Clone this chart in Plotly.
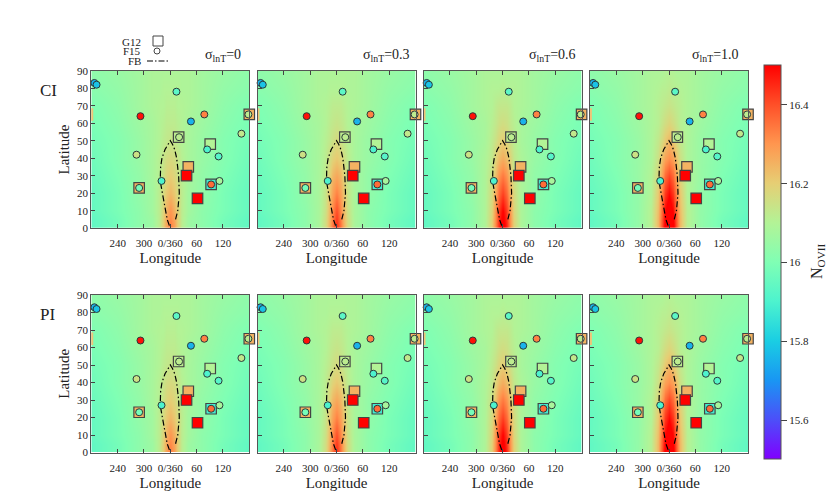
import plotly.graph_objects as go

FONT = "Liberation Serif"
INK = "#222222"
W, H = 830, 498

# Map samples: columns are degrees away from lon 0 (map is symmetric)
offsets = [0, 8, 15, 25, 40, 70, 120, 180]
lats = [0, 5, 10, 20, 30, 40, 50, 60, 70, 80, 90]
z_s0 = [
    [16.34, 16.28, 16.20, 16.12, 16.06, 16.03, 15.98, 15.94],
    [16.32, 16.27, 16.20, 16.12, 16.06, 16.03, 15.98, 15.94],
    [16.30, 16.25, 16.19, 16.12, 16.07, 16.03, 15.99, 15.95],
    [16.24, 16.21, 16.17, 16.12, 16.07, 16.04, 15.99, 15.95],
    [16.20, 16.18, 16.15, 16.11, 16.08, 16.04, 16.00, 15.96],
    [16.17, 16.16, 16.14, 16.11, 16.08, 16.05, 16.01, 15.97],
    [16.14, 16.13, 16.12, 16.10, 16.08, 16.05, 16.01, 15.98],
    [16.12, 16.12, 16.11, 16.10, 16.08, 16.06, 16.02, 15.99],
    [16.11, 16.11, 16.10, 16.10, 16.09, 16.07, 16.03, 16.00],
    [16.10, 16.10, 16.10, 16.09, 16.09, 16.07, 16.04, 16.02],
    [16.09, 16.09, 16.09, 16.09, 16.09, 16.07, 16.05, 16.03],
]
z_s3 = [
    [16.45, 16.35, 16.26, 16.16, 16.08, 16.03, 15.98, 15.94],
    [16.43, 16.34, 16.25, 16.16, 16.08, 16.03, 15.98, 15.94],
    [16.40, 16.32, 16.24, 16.15, 16.08, 16.03, 15.99, 15.95],
    [16.33, 16.28, 16.22, 16.14, 16.08, 16.04, 15.99, 15.95],
    [16.27, 16.24, 16.19, 16.13, 16.08, 16.04, 16.00, 15.96],
    [16.21, 16.19, 16.16, 16.12, 16.08, 16.05, 16.01, 15.97],
    [16.17, 16.15, 16.13, 16.11, 16.08, 16.05, 16.01, 15.98],
    [16.14, 16.13, 16.12, 16.10, 16.08, 16.06, 16.02, 15.99],
    [16.12, 16.12, 16.11, 16.10, 16.09, 16.07, 16.03, 16.00],
    [16.10, 16.10, 16.10, 16.09, 16.09, 16.07, 16.04, 16.02],
    [16.09, 16.09, 16.09, 16.09, 16.09, 16.07, 16.05, 16.03],
]
z_s6 = [
    [16.55, 16.45, 16.33, 16.19, 16.09, 16.03, 15.98, 15.94],
    [16.53, 16.44, 16.32, 16.19, 16.09, 16.03, 15.98, 15.94],
    [16.50, 16.42, 16.31, 16.18, 16.09, 16.03, 15.99, 15.95],
    [16.42, 16.36, 16.27, 16.17, 16.09, 16.04, 15.99, 15.95],
    [16.34, 16.30, 16.23, 16.15, 16.09, 16.04, 16.00, 15.96],
    [16.26, 16.23, 16.19, 16.13, 16.09, 16.05, 16.01, 15.97],
    [16.20, 16.18, 16.15, 16.12, 16.08, 16.05, 16.01, 15.98],
    [16.16, 16.15, 16.13, 16.11, 16.08, 16.06, 16.02, 15.99],
    [16.13, 16.13, 16.12, 16.10, 16.09, 16.07, 16.03, 16.00],
    [16.11, 16.10, 16.10, 16.10, 16.09, 16.07, 16.04, 16.02],
    [16.09, 16.09, 16.09, 16.09, 16.09, 16.07, 16.05, 16.03],
]
z_s10 = [
    [16.62, 16.53, 16.40, 16.24, 16.11, 16.04, 15.98, 15.94],
    [16.59, 16.51, 16.39, 16.24, 16.11, 16.04, 15.98, 15.94],
    [16.56, 16.49, 16.37, 16.23, 16.11, 16.04, 15.99, 15.95],
    [16.49, 16.43, 16.33, 16.21, 16.10, 16.04, 15.99, 15.95],
    [16.41, 16.36, 16.28, 16.18, 16.10, 16.05, 16.00, 15.96],
    [16.31, 16.28, 16.23, 16.15, 16.09, 16.05, 16.01, 15.97],
    [16.24, 16.21, 16.17, 16.13, 16.09, 16.05, 16.01, 15.98],
    [16.18, 16.16, 16.14, 16.11, 16.09, 16.06, 16.02, 15.99],
    [16.14, 16.13, 16.12, 16.11, 16.09, 16.07, 16.03, 16.00],
    [16.12, 16.11, 16.11, 16.10, 16.09, 16.07, 16.04, 16.02],
    [16.10, 16.10, 16.09, 16.09, 16.09, 16.07, 16.05, 16.03],
]
tables = [z_s0, z_s3, z_s6, z_s10]

g12_lon = [180, 19, 91, 41, 37, 62, 93, -71]
g12_lat = [65, 52, 48, 35, 30, 17, 25, 23]
g12_val = [16.25, 16.12, 16.1, 16.25, 16.5, 16.5, 15.88, 16.25]

f15_lon = [-173, -168, 14, -68, 77.5, 47, 178, 162, 20, -77, 84, 110, -20, 112, 93, -71]
f15_lat = [83, 82, 78, 64, 65, 61, 65, 54, 52, 42, 45, 41, 27, 27, 25, 23]
f15_val = [15.75, 15.78, 15.93, 16.48, 16.33, 15.75, 16.12, 16.13, 16.12, 16.15, 15.9, 15.92, 15.9, 16.08, 16.36, 15.98]

fb_lon = [12, 17, 20.5, 19, 14.5, 10, 5, 0, -12, -19, -22, -23, -18, -11, -7, 0]
fb_lat = [5, 10, 20, 30, 40, 45, 48, 50, 45, 40, 35, 27, 20, 10, 5, 0]

x_ticks = [-120, -60, 0, 60, 120]
x_labels = ["240", "300", "0/360", "60", "120"]
y_ticks = [0, 10, 20, 30, 40, 50, 60, 70, 80, 90]
sigma_titles = ["σ<sub>lnT</sub>=0", "σ<sub>lnT</sub>=0.3", "σ<sub>lnT</sub>=0.6", "σ<sub>lnT</sub>=1.0"]
row_names = ["CI", "PI"]

palette = [
    [0.0, "#8000ff"], [0.1, "#4c4ff9"], [0.2, "#1996f3"], [0.3, "#1acee3"], [0.4, "#4df3ce"],
    [0.5, "#80ffb4"], [0.6, "#b3f396"], [0.7, "#e6ce74"], [0.8, "#ff964f"], [0.9, "#ff4f28"], [1.0, "#ff0000"],
]

col_left = [91.3, 257.5, 423.6, 590.0]
panel_w = 158
row_top = [70.7, 295.0]
panel_h = 157.5

lons = [-o for o in offsets[:0:-1]] + offsets


def px(v):
    return v / W


def py(v):
    return 1 - v / H


fig = go.Figure()
n = 0
for r, top in enumerate(row_top):
    for c, left in enumerate(col_left):
        n += 1
        sx = "" if n == 1 else str(n)
        z = [row[:0:-1] + row for row in tables[c]]
        fig.add_trace(go.Heatmap(x=lons, y=lats, z=z, coloraxis="coloraxis", zsmooth="best",
                                 xaxis="x" + sx, yaxis="y" + sx, hoverinfo="skip"))
        fig.add_trace(go.Scatter(x=[-178.5], y=[65], mode="markers", xaxis="x" + sx, yaxis="y" + sx,
                                 marker=dict(symbol="line-ns", size=9, line=dict(width=2.5, color="#f0c478")),
                                 showlegend=False, hoverinfo="skip"))
        fig.add_trace(go.Scatter(x=fb_lon, y=fb_lat, mode="lines", xaxis="x" + sx, yaxis="y" + sx,
                                 line=dict(color="black", width=1.2, dash="6px,2.5px,1.5px,2.5px"),
                                 showlegend=False, hoverinfo="skip"))
        fig.add_trace(go.Scatter(x=g12_lon, y=g12_lat, mode="markers", xaxis="x" + sx, yaxis="y" + sx, cliponaxis=False,
                                 marker=dict(symbol="square", size=10.5, color=g12_val, coloraxis="coloraxis",
                                             line=dict(color="#444444", width=1.2)),
                                 showlegend=False, hoverinfo="skip"))
        fig.add_trace(go.Scatter(x=f15_lon, y=f15_lat, mode="markers", xaxis="x" + sx, yaxis="y" + sx, cliponaxis=False,
                                 marker=dict(symbol="circle", size=7, color=f15_val, coloraxis="coloraxis",
                                             line=dict(color="#2a3a3a", width=1)),
                                 showlegend=False, hoverinfo="skip"))
        xa = dict(domain=[px(left), px(left + panel_w)], range=[-180, 180], tickvals=x_ticks, ticktext=x_labels,
                  ticks="inside", ticklen=4, tickcolor="#444444", showline=True, mirror="allticks",
                  linecolor="#555555", linewidth=1, showgrid=False, zeroline=False, anchor="y" + sx,
                  tickfont=dict(family=FONT, size=11, color=INK), ticklabelstandoff=5,
                  title=dict(text="Longitude", font=dict(family=FONT, size=15, color=INK), standoff=4))
        ya = dict(domain=[py(top + panel_h), py(top)], range=[0, 90], tickvals=y_ticks,
                  ticks="inside", ticklen=4, tickcolor="#444444", showline=True, mirror=True,
                  linecolor="#555555", linewidth=1, showgrid=False, zeroline=False, anchor="x" + sx,
                  showticklabels=c == 0, tickfont=dict(family=FONT, size=11, color=INK))
        if c == 0:
            ya["title"] = dict(text="Latitude", font=dict(family=FONT, size=15, color=INK), standoff=3)
        fig.layout["xaxis" + sx] = xa
        fig.layout["yaxis" + sx] = ya

ann = []


def text(x, y, s, size, anchor="left", angle=0):
    ann.append(dict(x=px(x), y=py(y), xref="paper", yref="paper", text=s, showarrow=False, xanchor=anchor,
                    yanchor="middle", textangle=angle, font=dict(family=FONT, size=size, color=INK)))


for s, rx in zip(sigma_titles, [243, 412, 578, 741]):
    text(rx, 56, s, 14, "right")
for s, ry in zip(row_names, [90, 314]):
    text(38, ry, s, 17)
for s, ly in zip(["G12", "F15", "FB"], [42, 51.5, 61.5]):
    text(143, ly, s, 11, "right")
text(817, 262, "N<sub>OVII</sub>", 16, "center", -90)

shapes = [
    dict(type="rect", xref="paper", yref="paper", x0=px(153), x1=px(163), y0=py(46), y1=py(36),
         line=dict(color="#444444", width=1)),
    dict(type="circle", xref="paper", yref="paper", x0=px(154), x1=px(160), y0=py(54), y1=py(48),
         line=dict(color="#444444", width=1)),
    dict(type="line", xref="paper", yref="paper", x0=px(147), x1=px(168), y0=py(61), y1=py(61),
         line=dict(color="black", width=1.2, dash="6px,2px,1.5px,2px")),
]

fig.update_layout(
    width=W, height=H, margin=dict(l=0, r=0, t=0, b=0, autoexpand=False), paper_bgcolor="white", plot_bgcolor="white",
    showlegend=False, annotations=ann, shapes=shapes,
    coloraxis=dict(cmin=15.5, cmax=16.5, colorscale=palette,
                   colorbar=dict(x=px(764), xanchor="left", y=py(65.5), yanchor="top",
                                 len=393.8, lenmode="pixels", thickness=17, thicknessmode="pixels",
                                 tickvals=[15.6, 15.8, 16, 16.2, 16.4], ticktext=["15.6", "15.8", "16", "16.2", "16.4"],
                                 ticks="outside", ticklen=6, tickcolor="#444444", outlinecolor="#555555",
                                 outlinewidth=1, xpad=0, ypad=0,
                                 tickfont=dict(family=FONT, size=11, color=INK))),
)
fig.write_html("out.html", config={"displayModeBar": False},
               post_script="document.body.style.margin='0';document.body.style.overflow='hidden';")
